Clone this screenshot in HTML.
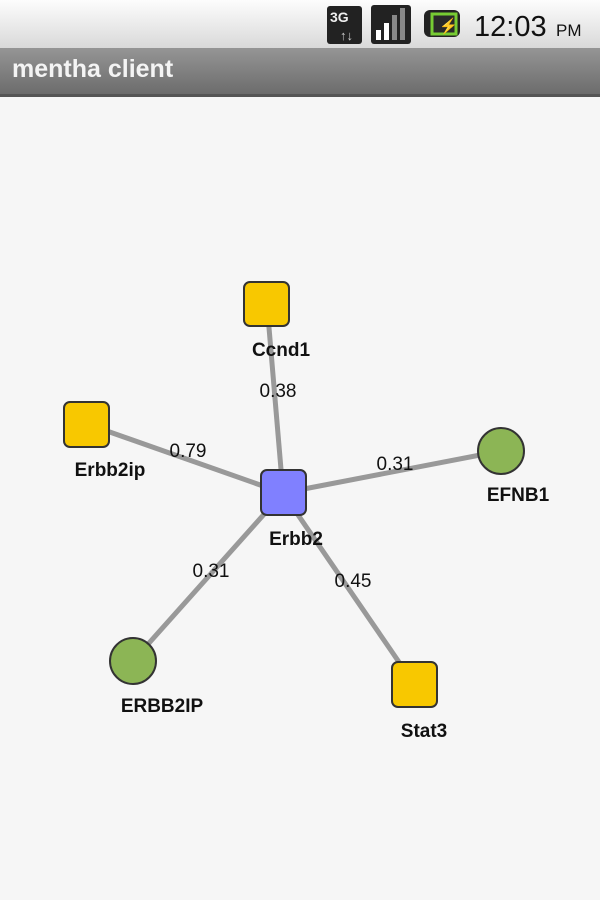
<!DOCTYPE html>
<html><head><style>
body{margin:0;width:600px;height:900px;background:#f6f6f6;overflow:hidden;font-family:"Liberation Sans",sans-serif}
#sb{position:absolute;left:0;top:0;width:600px;height:48px;background:linear-gradient(#fdfdfd,#d9d9d9)}
#tb{position:absolute;left:0;top:48px;width:600px;height:46px;background:linear-gradient(#959595,#6c6c6c);border-bottom:3px solid #555}
#tb span{position:absolute;left:12px;top:7px;color:#f4f4f4;font-weight:bold;font-size:25px}
</style></head><body>
<div id="sb">
<svg width="600" height="48" style="position:absolute;left:0;top:0">
<rect x="327" y="6" width="35" height="38" rx="3" fill="#222"/>
<text x="330" y="22" font-size="14" font-weight="bold" fill="#eee" font-family="Liberation Sans">3G</text>
<text x="340" y="40" font-size="13" fill="#ccc" font-family="Liberation Sans">↑↓</text>
<rect x="371" y="5" width="40" height="39" rx="3" fill="#222"/>
<rect x="376" y="30" width="5" height="10" fill="#fff"/><rect x="384" y="23" width="5" height="17" fill="#fff"/><rect x="392" y="15" width="5" height="25" fill="#888"/><rect x="400" y="8" width="5" height="32" fill="#888"/>
<rect x="424" y="10" width="36" height="27" rx="6" fill="#222"/>
<rect x="432" y="14" width="24" height="20" fill="#2a2a2a" stroke="#7c3" stroke-width="3"/>
<text x="439" y="31" font-size="15" fill="#eee" font-weight="bold">⚡</text>
<text x="474" y="36" font-size="29" fill="#111">12:03</text>
<text x="556" y="36" font-size="17" fill="#111">PM</text>
</svg></div>
<div id="tb"><span>mentha client</span></div>
<svg width="600" height="900" style="position:absolute;left:0;top:0" font-family="Liberation Sans">
<g stroke="#999" stroke-width="5">
<line x1="283" y1="493" x2="267" y2="304"/>
<line x1="283" y1="493" x2="87" y2="424"/>
<line x1="283" y1="493" x2="501" y2="451"/>
<line x1="283" y1="493" x2="133" y2="661"/>
<line x1="283" y1="493" x2="414" y2="684"/>
</g>
<g stroke="#333" stroke-width="2">
<rect x="244" y="282" width="45" height="44" rx="6" fill="#f8c800"/>
<rect x="64" y="402" width="45" height="45" rx="6" fill="#f8c800"/>
<rect x="392" y="662" width="45" height="45" rx="6" fill="#f8c800"/>
<rect x="261" y="470" width="45" height="45" rx="6" fill="#8080ff"/>
<circle cx="501" cy="451" r="23" fill="#8cb555"/>
<circle cx="133" cy="661" r="23" fill="#8cb555"/>
</g>
<g font-size="19" font-weight="bold" fill="#111" text-anchor="middle">
<text x="281" y="356">Ccnd1</text>
<text x="110" y="476">Erbb2ip</text>
<text x="296" y="545">Erbb2</text>
<text x="518" y="501">EFNB1</text>
<text x="162" y="712">ERBB2IP</text>
<text x="424" y="737">Stat3</text>
</g>
<g font-size="19" fill="#111" text-anchor="middle">
<text x="278" y="397">0.38</text>
<text x="188" y="457">0.79</text>
<text x="395" y="470">0.31</text>
<text x="211" y="577">0.31</text>
<text x="353" y="587">0.45</text>
</g>
</svg>
</body></html>
